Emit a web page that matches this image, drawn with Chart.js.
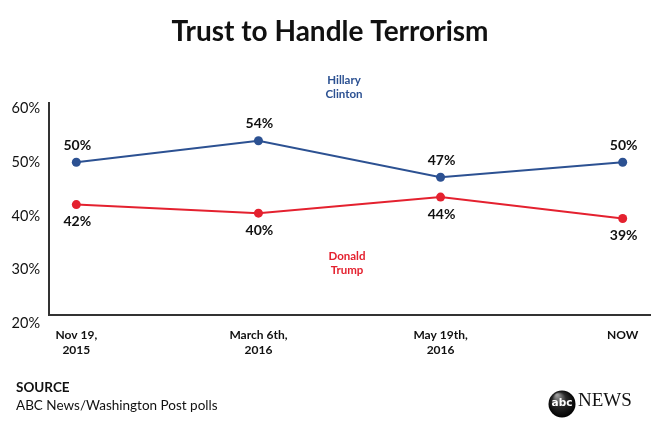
<!DOCTYPE html>
<html>
<head>
<meta charset="utf-8">
<script src="https://cdn.jsdelivr.net/npm/chart.js@4.4.1/dist/chart.umd.min.js"></script>
<style>
  html, body { margin: 0; padding: 0; background: #fff; }
  #wrap { width: 660px; height: 426px; position: relative; }
</style>
</head>
<body>
<div id="wrap"><canvas id="trustChart"></canvas></div>
<script>
// data
const pollDates = [["Nov 19,", "2015"], ["March 6th,", "2016"], ["May 19th,", "2016"], ["NOW"]];
const clintonValues = [50, 54, 47.2, 50];
const trumpValues = [42.1, 40.5, 43.5, 39.5];
const clintonLabels = ["50%", "54%", "47%", "50%"];
const trumpLabels = ["42%", "40%", "44%", "39%"];
const yTicks = [20, 30, 40, 50, 60];

const BLUE = "#2c5192";
const RED = "#e4212f";
const FONT = "Lato, 'Open Sans', sans-serif";

// labels above/below each point, plus title, source and logo
const extras = {
  id: "extras",
  afterDatasetsDraw(chart) {
    const ctx = chart.ctx;
    ctx.save();
    ctx.textAlign = "center";
    ctx.textBaseline = "middle";
    ctx.fillStyle = "#111";
    ctx.font = "bold 14px " + FONT;
    chart.getDatasetMeta(0).data.forEach((pt, i) => {
      ctx.fillText(clintonLabels[i], pt.x + 1, pt.y - 17);
    });
    chart.getDatasetMeta(1).data.forEach((pt, i) => {
      ctx.fillText(trumpLabels[i], pt.x + 1, pt.y + 17);
    });

    // title
    ctx.font = "bold 28px " + FONT;
    ctx.fillText("Trust to Handle Terrorism", 330, 32);

    // series names
    ctx.font = "bold 11.5px " + FONT;
    ctx.fillStyle = BLUE;
    ctx.fillText("Hillary", 344, 80);
    ctx.fillText("Clinton", 344, 94);
    ctx.fillStyle = RED;
    ctx.fillText("Donald", 347, 256);
    ctx.fillText("Trump", 347, 270);

    // source
    ctx.textAlign = "left";
    ctx.fillStyle = "#111";
    ctx.font = "bold 13.5px " + FONT;
    ctx.fillText("SOURCE", 16, 388);
    ctx.font = "13.5px " + FONT;
    ctx.fillText("ABC News/Washington Post polls", 16, 406);

    // abc news logo
    const g = ctx.createRadialGradient(557, 395, 1, 562, 404, 14);
    g.addColorStop(0, "#9a9a9a");
    g.addColorStop(0.45, "#2a2a2a");
    g.addColorStop(1, "#000");
    ctx.fillStyle = g;
    ctx.beginPath();
    ctx.arc(562, 404, 13.5, 0, Math.PI * 2);
    ctx.fill();
    ctx.fillStyle = "#fff";
    ctx.textAlign = "center";
    ctx.font = "bold 10.5px 'DejaVu Sans', sans-serif";
    ctx.fillText("abc", 562, 403);
    ctx.fillStyle = "#111";
    ctx.textAlign = "left";
    ctx.font = "19px 'Liberation Serif', serif";
    ctx.fillText("NEWS", 578, 401);
    ctx.restore();
  }
};

const config = {
  type: "line",
  data: {
    datasets: [
      {
        label: "Hillary Clinton",
        data: clintonValues.map((v, i) => ({ x: i, y: v })),
        borderColor: BLUE,
        backgroundColor: BLUE,
        borderWidth: 2,
        pointRadius: 4.5,
        pointBorderWidth: 0,
        pointHoverRadius: 4.5,
        tension: 0,
      },
      {
        label: "Donald Trump",
        data: trumpValues.map((v, i) => ({ x: i, y: v })),
        borderColor: RED,
        backgroundColor: RED,
        borderWidth: 2,
        pointRadius: 4.5,
        pointBorderWidth: 0,
        pointHoverRadius: 4.5,
        tension: 0,
      },
    ],
  },
  options: {
    responsive: true,
    maintainAspectRatio: false,
    animation: false,
    layout: { padding: { top: 103, right: 10, left: 0, bottom: 0 } },
    plugins: { legend: { display: false }, tooltip: { enabled: false } },
    scales: {
      x: {
        type: "linear",
        min: -0.15,
        max: 3.15,
        afterBuildTicks: (s) => { s.ticks = pollDates.map((d, i) => ({ value: i })); },
        afterFit: (s) => { s.height = 111; },
        grid: { display: false },
        border: { display: true, color: "#333", width: 2 },
        ticks: {
          padding: 4,
          color: "#111",
          maxRotation: 0,
          font: { family: FONT, size: 12, weight: "bold", lineHeight: 1.3 },
          callback: (v) => pollDates[v],
        },
      },
      y: {
        min: 21.5,
        max: 61.05,
        afterBuildTicks: (s) => { s.ticks = yTicks.map((v) => ({ value: v })); },
        afterFit: (s) => { s.width = 49; },
        grid: { display: false },
        border: { display: true, color: "#333", width: 2 },
        ticks: {
          padding: 1,
          color: "#111",
          font: { family: FONT, size: 14.5 },
          callback: (v) => v + "%",
        },
      },
    },
  },
  plugins: [extras],
};

const trustChart = new Chart(document.getElementById("trustChart"), config);
</script>
</body>
</html>
